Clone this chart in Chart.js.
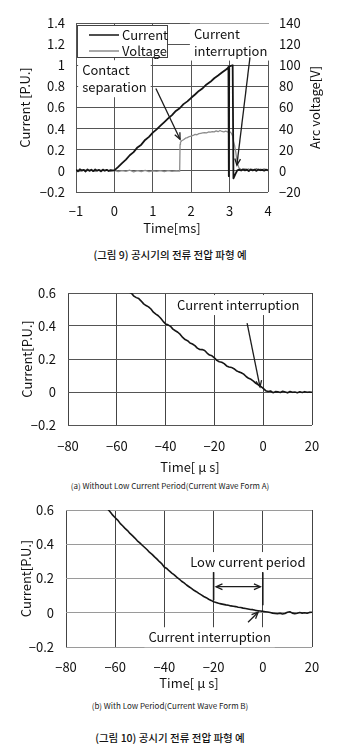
<!DOCTYPE html>
<html>
<head>
<meta charset="utf-8">
<script src="https://cdn.jsdelivr.net/npm/chart.js@4/dist/chart.umd.min.js"></script>
<style>
  html, body { margin: 0; padding: 0; background: #fff; }
  body { width: 340px; height: 754px; position: relative; overflow: hidden; }
  canvas { position: absolute; left: 0; }
  .cap { position: absolute; left: 0; width: 340px; text-align: center; color: #111;
         font-family: "Noto Sans CJK KR", sans-serif; white-space: nowrap; }
  .fig { font-size: 10.5px; line-height: 14px; font-weight: 500; }
  .sub { font-size: 8px; line-height: 10px; color: #222; }
</style>
</head>
<body>
<canvas id="c1" width="340" height="240" style="top:0"></canvas>
<div class="cap fig" style="top:248px">(그림 9) 공시기의 전류 전압 파형 예</div>
<canvas id="c2" width="340" height="209" style="top:270px"></canvas>
<div class="cap sub" style="top:481px">(a) Without Low Current Period(Current Wave Form A)</div>
<canvas id="c3" width="340" height="205" style="top:490px"></canvas>
<div class="cap sub" style="top:701px">(b) With Low Period(Current Wave Form B)</div>
<div class="cap fig" style="top:731px">(그림 10) 공시기 전류 전압 파형 예</div>

<script>
// ---------- Fig. 9: current / arc voltage during interruption ----------
const fig9CurrentTime = [
  -1, -0.95, -0.9, -0.85, -0.8, -0.75, -0.7, -0.65, -0.6, -0.55, -0.5,
  -0.45, -0.4, -0.35, -0.3, -0.25, -0.2, -0.15, -0.1, -0.05, 0,
  0.1, 0.2, 0.3, 0.4, 0.5, 0.6, 0.7, 0.8, 0.9, 1.0,
  1.1, 1.2, 1.3, 1.4, 1.5, 1.6, 1.7, 1.8, 1.9, 2.0,
  2.1, 2.2, 2.3, 2.4, 2.5, 2.6, 2.7, 2.8, 2.9, 2.95,
  2.97, 2.98, 2.99, 3.03, 3.08, 3.1, 3.15, 3.2,
  3.25, 3.3, 3.35, 3.4, 3.45, 3.5, 3.55, 3.6, 3.65, 3.7, 3.75, 3.8, 3.85, 3.9, 3.95, 4.0
];
const fig9Current = [
  0.012, -0.004, 0.015, 0.003, 0.010, -0.006, 0.014, 0.000, 0.011, -0.003, 0.013,
  0.002, 0.009, -0.005, 0.012, 0.001, 0.010, -0.002, 0.008, 0.004, 0.005,
  0.038, 0.074, 0.107, 0.148, 0.178, 0.222, 0.248, 0.293, 0.322, 0.362,
  0.393, 0.428, 0.462, 0.497, 0.528, 0.567, 0.593, 0.632, 0.658, 0.692,
  0.723, 0.757, 0.783, 0.818, 0.843, 0.877, 0.903, 0.932, 0.958, 0.972,
  0.985, -0.05, 0.99, 0.995, 1.0, -0.07, -0.03, 0.005,
  0.012, 0.003, 0.015, 0.005, 0.011, -0.002, 0.014, 0.004, 0.012, 0.000, 0.013, 0.006, 0.010, 0.002, 0.012, 0.005
];
const fig9VoltageTime = [
  -1, -0.9, -0.8, -0.7, -0.6, -0.5, -0.4, -0.3, -0.2, -0.1,
  0, 0.1, 0.2, 0.3, 0.4, 0.5, 0.6, 0.7, 0.8, 0.9,
  1.0, 1.1, 1.2, 1.3, 1.4, 1.5, 1.6, 1.7,
  1.71, 1.72, 1.75, 1.8, 1.85, 1.9, 1.95, 2.0, 2.05, 2.1,
  2.15, 2.2, 2.25, 2.3, 2.35, 2.4, 2.45, 2.5, 2.55, 2.6,
  2.65, 2.7, 2.75, 2.8, 2.85, 2.9, 2.95, 3.0, 3.05, 3.08,
  3.1, 3.13, 3.16, 3.19, 3.22, 3.25,
  3.3, 3.35, 3.4, 3.45, 3.5, 3.55, 3.6, 3.65, 3.7, 3.75, 3.8, 3.85, 3.9, 3.95, 4.0
];
const fig9Voltage = [
  1.0, -0.5, 1.2, 0.3, 0.8, -0.6, 1.0, 0.2, 0.9, -0.4,
  0.5, -0.8, 0.3, -0.5, 0.6, -0.9, 0.2, -0.6, 0.4, -0.7,
  0.1, -0.5, 0.3, -0.8, 0.2, -0.4, 0.1, -0.3,
  25, 27, 28.5, 29.5, 31, 31.5, 32.5, 33, 33.5, 34.5,
  34.2, 35.3, 35.6, 35.9, 36.2, 36.0, 36.8, 36.6, 37.2, 36.9,
  37.8, 37.1, 38.2, 37.3, 37.0, 37.6, 36.8, 37.2, 35.5, 33,
  28, 24, 18, 10, 5, 2.5,
  1.5, 0.8, 2.0, 1.2, 1.8, 0.6, 1.5, 1.0, 2.1, 0.9, 1.6, 1.1, 1.9, 0.7, 1.4
];
const fig9XTicks = [-1, 0, 1, 2, 3, 4];
const fig9XLabels = ['−1', '0', '1', '2', '3', '4'];
const fig9YTicks = [-0.2, 0, 0.2, 0.4, 0.6, 0.8, 1.0, 1.2, 1.4];
const fig9YLabels = ['−0.2', '0', '0.2', '0.4', '0.6', '0.8', '1', '1.2', '1.4'];
const fig9VTicks = [-20, 0, 20, 40, 60, 80, 100, 120, 140];
const fig9VLabels = ['−20', '0', '20', '40', '60', '80', '100', '120', '140'];

// ---------- Fig. 10(a): wave form A ----------
const waveATime = [
  -56, -55, -54, -53, -52, -51, -50, -49, -48, -47, -46, -45, -44, -43, -42, -41,
  -40, -39, -38, -37, -36, -35, -34, -33, -32, -31, -30, -29, -28, -27, -26, -25,
  -24, -23, -22, -21, -20, -19, -18, -17, -16, -15, -14, -13, -12, -11, -10, -9,
  -8, -7, -6, -5, -4, -3, -2, -1, 0, 1, 2, 3, 4, 5, 6, 7,
  8, 9, 10, 11, 12, 13, 14, 15, 16, 17, 18, 19, 20
];
const waveACurrent = [
  0.618, 0.606, 0.598, 0.581, 0.572, 0.566, 0.551, 0.534, 0.524, 0.516, 0.503, 0.484, 0.472, 0.462, 0.447, 0.428,
  0.412, 0.407, 0.398, 0.381, 0.371, 0.362, 0.349, 0.331, 0.318, 0.311, 0.297, 0.291, 0.281, 0.266, 0.258, 0.257,
  0.252, 0.236, 0.224, 0.219, 0.207, 0.192, 0.183, 0.180, 0.172, 0.158, 0.152, 0.149, 0.141, 0.129, 0.122, 0.117,
  0.108, 0.094, 0.083, 0.077, 0.066, 0.052, 0.043, 0.034, 0.022, 0.008, 0.003, 0.006, -0.004, 0.002, 0.001, -0.003,
  0.004, 0.000, -0.005, 0.003, -0.002, 0.000, -0.004, 0.001, -0.003, 0.002, -0.002, 0.000, -0.002
];

// ---------- Fig. 10(b): wave form B ----------
const waveBTime = [
  -64, -63, -62, -61, -60, -59, -58, -57, -56, -55, -54, -53, -52, -51, -50, -49,
  -48, -47, -46, -45, -44, -43, -42, -41, -40, -39, -38, -37, -36, -35, -34, -33,
  -32, -31, -30, -29, -28, -27, -26, -25, -24, -23, -22, -21, -20, -19, -18, -17,
  -16, -15, -14, -13, -12, -11, -10, -9, -8, -7, -6, -5, -4, -3, -2, -1,
  0, 1, 2, 3, 4, 5, 6, 7, 8, 9, 10, 11, 12, 13, 14, 15, 16, 17, 18, 19, 20
];
const waveBCurrent = [
  0.625, 0.605, 0.588, 0.570, 0.555, 0.541, 0.522, 0.508, 0.493, 0.480, 0.463, 0.450, 0.436, 0.420, 0.408, 0.394,
  0.381, 0.368, 0.352, 0.341, 0.326, 0.313, 0.298, 0.285, 0.266, 0.258, 0.244, 0.232, 0.221, 0.208, 0.197, 0.184,
  0.174, 0.162, 0.152, 0.142, 0.131, 0.123, 0.113, 0.104, 0.095, 0.088, 0.079, 0.072, 0.064, 0.060, 0.055, 0.052,
  0.049, 0.046, 0.044, 0.040, 0.038, 0.036, 0.032, 0.031, 0.027, 0.025, 0.022, 0.019, 0.018, 0.014, 0.012, 0.010,
  0.008, 0.006, 0.004, 0.001, -0.002, -0.004, -0.006, -0.003, -0.007, -0.004, 0.003, 0.006, -0.002, -0.005, -0.003, 0.001, -0.002, 0.000, -0.003, 0.002, 0.003
];

const usXTicks = [-80, -60, -40, -20, 0, 20];
const usXLabels = ['−80', '−60', '−40', '−20', '0', '20'];
const usYTicks = [-0.2, 0, 0.2, 0.4, 0.6];
const usYLabels = ['−0.2', '0', '0.2', '0.4', '0.6'];

// ---------- shared helpers ----------
Chart.defaults.font.family = '"Noto Sans CJK JP", "Liberation Sans", sans-serif';
Chart.defaults.font.size = 13;
Chart.defaults.color = '#111';

const points = (xs, ys) => xs.map((x, i) => ({ x, y: ys[i] }));

function axis(values, labels, extra) {
  return Object.assign({
    type: 'linear',
    min: values[0],
    max: values[values.length - 1],
    afterBuildTicks: s => { s.ticks = values.map(v => ({ value: v })); },
    border: { display: false },
    grid: { color: '#555', lineWidth: 1, drawTicks: false },
    ticks: { autoSkip: false, maxRotation: 0, callback: (v, i) => labels[i] }
  }, extra);
}

function arrowHead(ctx, x1, y1, x2, y2, len) {
  const a = Math.atan2(y2 - y1, x2 - x1);
  ctx.beginPath();
  ctx.moveTo(x2 - len * Math.cos(a - 0.42), y2 - len * Math.sin(a - 0.42));
  ctx.lineTo(x2, y2);
  ctx.lineTo(x2 - len * Math.cos(a + 0.42), y2 - len * Math.sin(a + 0.42));
  ctx.stroke();
}

// Annotation boxes, arrows, in-plot legend and a left-reading right-axis title
const notesPlugin = {
  id: 'notes',
  beforeDatasetsDraw(chart, args, opts) {
    const ctx = chart.ctx, xs = chart.scales.x, ys = chart.scales.y;
    ctx.save();
    ctx.font = '13px "Noto Sans CJK JP", "Liberation Sans", sans-serif';
    ctx.textBaseline = 'middle';
    (opts.texts || []).forEach(t => {
      const x = xs.getPixelForValue(t.at[0]);
      const y = ys.getPixelForValue(t.at[1]);
      const w = Math.max(...t.lines.map(l => ctx.measureText(l).width));
      const gap = t.gap || 17;
      ctx.fillStyle = '#fff';
      ctx.fillRect(x - 4, y - 10, w + 8, gap * (t.lines.length - 1) + 20);
      ctx.fillStyle = '#111';
      t.lines.forEach((l, i) => ctx.fillText(l, x, y + i * gap));
    });
    ctx.restore();
  },
  afterDatasetsDraw(chart, args, opts) {
    const ctx = chart.ctx, xs = chart.scales.x, ys = chart.scales.y, area = chart.chartArea;
    const P = p => [xs.getPixelForValue(p[0]), ys.getPixelForValue(p[1])];
    ctx.save();
    ctx.strokeStyle = '#1c1c1c';
    ctx.lineWidth = 1.3;
    (opts.arrows || []).forEach(a => {
      const [x1, y1] = P(a.from), [x2, y2] = P(a.to);
      ctx.lineWidth = a.width || 1.3;
      ctx.beginPath(); ctx.moveTo(x1, y1); ctx.lineTo(x2, y2); ctx.stroke();
      if (a.head) arrowHead(ctx, x1, y1, x2, y2, 7);
      if (a.tail) arrowHead(ctx, x2, y2, x1, y1, 7);
    });
    if (opts.legend) {
      const L = area.left + 1, T = area.top + 2;
      ctx.fillStyle = '#fff';
      ctx.fillRect(L, T, 90, 32);
      ctx.lineWidth = 1;
      ctx.strokeStyle = '#444';
      ctx.strokeRect(L + 0.5, T + 0.5, 90, 32);
      ctx.font = '13px "Noto Sans CJK JP", "Liberation Sans", sans-serif';
      ctx.textBaseline = 'middle';
      chart.data.datasets.forEach((ds, i) => {
        const y = T + 10 + i * 16;
        ctx.strokeStyle = ds.borderColor;
        ctx.lineWidth = 1.5;
        ctx.beginPath(); ctx.moveTo(L + 12, y); ctx.lineTo(L + 42, y); ctx.stroke();
        ctx.fillStyle = '#111';
        ctx.fillText(ds.label, L + 45, y);
      });
    }
    if (opts.sideTitle) {
      ctx.font = '13px "Noto Sans CJK JP", "Liberation Sans", sans-serif';
      ctx.fillStyle = '#111';
      ctx.textAlign = 'center';
      ctx.textBaseline = 'middle';
      ctx.translate(area.right + opts.sideTitle.offset, (area.top + area.bottom) / 2);
      ctx.rotate(-Math.PI / 2);
      ctx.fillText(opts.sideTitle.text, 0, 0);
    }
    ctx.restore();
  }
};

const base = {
  responsive: false,
  animation: false,
  devicePixelRatio: 1,
  events: [],
  elements: { point: { radius: 0 }, line: { tension: 0, borderJoinStyle: 'round' } },
};

// ---------- Fig. 9 ----------
new Chart(document.getElementById('c1'), {
  type: 'line',
  data: {
    datasets: [
      { label: 'Current', data: points(fig9CurrentTime, fig9Current), borderColor: '#151515', borderWidth: 1.8, yAxisID: 'y' },
      { label: 'Voltage', data: points(fig9VoltageTime, fig9Voltage), borderColor: '#8c8c8c', borderWidth: 1.3, yAxisID: 'yV' }
    ]
  },
  options: Object.assign({}, base, {
    layout: { padding: { top: 23, left: 0, right: 0, bottom: 0 } },
    plugins: {
      legend: { display: false }, tooltip: { enabled: false },
      notes: {
        legend: true,
        sideTitle: { text: 'Arc voltage[V]', offset: 47 },
        texts: [
          { lines: ['Contact', 'separation'], at: [-0.84, 0.953] },
          { lines: ['Current', 'interruption'], at: [2.07, 1.30] }
        ],
        arrows: [
          { from: [1.08, 0.78], to: [1.71, 0.30], head: true },
          { from: [3.53, 1.075], to: [3.19, 0.054], head: true }
        ]
      }
    },
    scales: {
      x: axis(fig9XTicks, fig9XLabels, {
        position: 'bottom',
        afterFit: s => { s.height = 48; },
        ticks: { autoSkip: false, maxRotation: 0, padding: 11, callback: (v, i) => fig9XLabels[i] },
        title: { display: true, text: 'Time[ms]', padding: { top: 0, bottom: 4 } }
      }),
      y: axis(fig9YTicks, fig9YLabels, {
        position: 'left',
        afterFit: s => { s.width = 76; },
        ticks: { autoSkip: false, padding: 11, callback: (v, i) => fig9YLabels[i] },
        title: { display: true, text: 'Current [P.U.]', padding: { top: 17, bottom: 0 } }
      }),
      yV: axis(fig9VTicks, fig9VLabels, {
        position: 'right',
        afterFit: s => { s.width = 72; },
        grid: { display: false, drawTicks: false },
        ticks: { autoSkip: false, padding: 11, callback: (v, i) => fig9VLabels[i] }
      })
    }
  }),
  plugins: [notesPlugin]
});

// ---------- Fig. 10 (a) and (b) ----------
function waveChart(id, times, values, notes, gridY, topPad, xHeight, leftW, tickPad, titlePad) {
  return new Chart(document.getElementById(id), {
    type: 'line',
    data: { datasets: [{ label: 'Current', data: points(times, values), borderColor: '#161616', borderWidth: 1.6 }] },
    options: Object.assign({}, base, {
      layout: { padding: { top: topPad, left: 0, right: 28, bottom: 0 } },
      plugins: { legend: { display: false }, tooltip: { enabled: false }, notes },
      scales: {
        x: axis(usXTicks, usXLabels, {
          afterFit: s => { s.height = xHeight; },
          grid: { color: '#444', lineWidth: 1, drawTicks: false },
          ticks: { autoSkip: false, maxRotation: 0, padding: tickPad, callback: (v, i) => usXLabels[i] },
          title: { display: true, text: 'Time[ μ s]', padding: { top: 0, bottom: 4 } }
        }),
        y: axis(usYTicks, usYLabels, {
          afterFit: s => { s.width = leftW; },
          grid: { color: gridY, lineWidth: 1, drawTicks: false },
          ticks: { autoSkip: false, padding: 12, callback: (v, i) => usYLabels[i] },
          title: { display: true, text: 'Current[P.U.]', padding: { top: titlePad, bottom: 0 } }
        })
      }
    }),
    plugins: [notesPlugin]
  });
}

waveChart('c2', waveATime, waveACurrent, {
  texts: [{ lines: ['Current interruption'], at: [-35.3, 0.527] }],
  arrows: [{ from: [-6.6, 0.418], to: [-1.3, 0.03], head: true }]
}, '#555', 23, 54, 68, 13, 19);

waveChart('c3', waveBTime, waveBCurrent, {
  texts: [
    { lines: ['Low current period'], at: [-29.5, 0.296] },
    { lines: ['Current interruption'], at: [-46.5, -0.143] }
  ],
  arrows: [
    { from: [-20, 0.237], to: [-20, 0.073], width: 1.6 },
    { from: [0, 0.237], to: [0, 0.044], width: 1.6 },
    { from: [-19, 0.152], to: [-1, 0.152], head: true, tail: true },
    { from: [-6, -0.055], to: [-1.9, 0.003], head: true }
  ]
}, '#9a9a9a', 20, 48, 66, 12, 18);
</script>
</body>
</html>
